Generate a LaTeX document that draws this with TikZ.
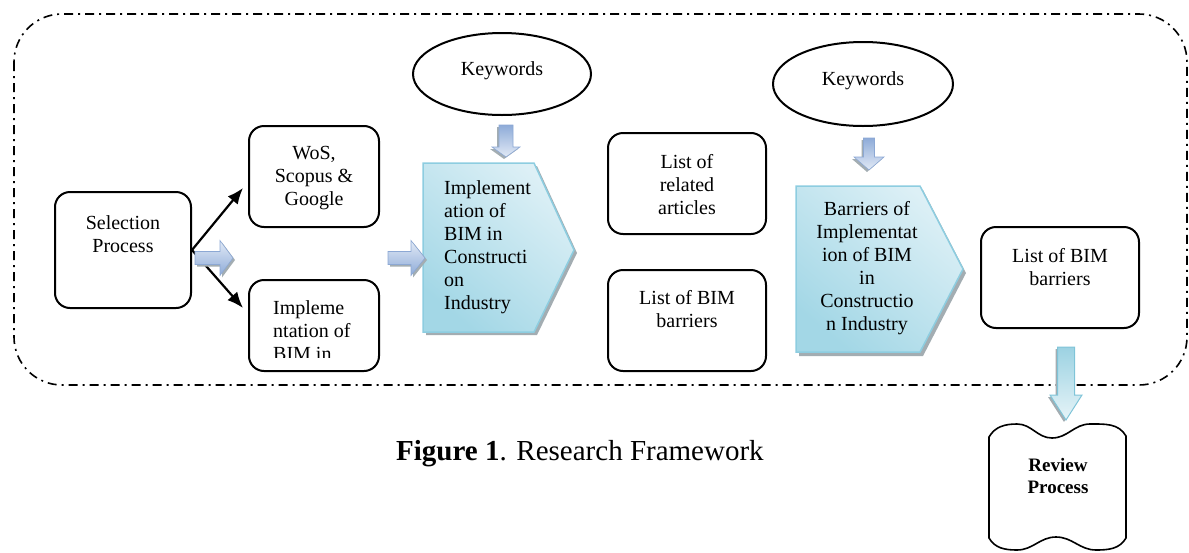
\documentclass[tikz,border=0pt]{standalone}
\usepackage{fontspec}
\setmainfont{Liberation Serif}
\usetikzlibrary{shapes.geometric,arrows.meta}
\definecolor{penfillA}{HTML}{A3D7E6}
\definecolor{penfillB}{HTML}{DDF0F6}
\definecolor{penline}{HTML}{8DCDE0}
\definecolor{shadowgrey}{HTML}{A3ADB2}
\definecolor{blueA}{HTML}{E2EAF6}
\definecolor{blueB}{HTML}{8EABD8}
\definecolor{blueline}{HTML}{8CA8D4}
\definecolor{cyanA}{HTML}{E6F4F8}
\definecolor{cyanB}{HTML}{9CD2E2}
\definecolor{cyanline}{HTML}{7FC4D8}
\begin{document}
\begin{tikzpicture}[x=1pt,y=1pt,
  box/.style={draw, line width=2pt, rounded corners=15pt, inner sep=0pt},
  txt/.style={font=\rmfamily\fontsize{20}{23}\selectfont, align=center, inner sep=0pt, anchor=north},
  kw/.style={font=\rmfamily\fontsize{20}{23}\selectfont, inner sep=0pt, anchor=base},
  ell/.style={draw, ellipse, line width=2pt, inner sep=0pt},
  conn/.style={line width=2.2pt, -{Latex[length=16pt,width=13pt]}},
  frame/.style={line width=1.6pt, rounded corners=48pt, dash pattern=on 9pt off 5pt on 2pt off 5pt},
  pent/.style={draw=penline, line width=1.5pt, top color=penfillB, bottom color=penfillA, shading angle=-40},
  bluearrR/.style={draw=blueline, line width=0.6pt, top color=blueA, bottom color=blueB},
  bluearrD/.style={draw=blueline, line width=0.6pt, top color=blueB, bottom color=blueA},
  cyanarrD/.style={draw=cyanline, line width=1pt, top color=cyanB, bottom color=cyanA},
  pics/barrow/.style n args={5}{code={
    \fill[shadowgrey] (2,-#2-2) -- (#1-#4+2,-#2-2) -- (#1-#4+2,-#3-2) -- (#1+2,-2)
      -- (#1-#4+2,#3-2) -- (#1-#4+2,#2-2) -- (2,#2-2) -- cycle;
    \path[#5] (0,-#2) -- (#1-#4,-#2) -- (#1-#4,-#3) -- (#1,0) -- (#1-#4,#3)
      -- (#1-#4,#2) -- (0,#2) -- cycle;
  }}
]
\useasboundingbox (0,0) rectangle (1189,-552);

% dash-dot frame
\draw[frame] (14,-14) rectangle (1187,-385);

% boxes
\node[box, minimum width=136pt, minimum height=116pt] (sel) at (123,-250) {};
\node[box, minimum width=130pt, minimum height=101pt] (wos) at (314,-176.5) {};
\node[box, minimum width=130pt, minimum height=91pt] (impl) at (314,-325.5) {};
\node[box, minimum width=158pt, minimum height=101pt] (rel) at (687,-183.5) {};
\node[box, minimum width=158pt, minimum height=101pt] (barl) at (687,-320.5) {};
\node[box, minimum width=158pt, minimum height=101pt] (barr) at (1060,-277.5) {};

\node[txt] (selt) at (123,-213) {\strut Selection\\Process};
\node[txt] (wost) at (314,-143) {\strut WoS,\\Scopus \&\\Google};
\begin{scope}
  \clip (249,-280) rectangle (379,-357);
  \node[txt, align=left, anchor=north west] (implt) at (273,-298) {\strut Impleme\\ntation of\\BIM in};
\end{scope}
\node[txt] (relt) at (687,-152) {\strut List of\\related\\articles};
\node[txt] (barlt) at (687,-288) {\strut List of BIM\\barriers};
\node[txt] (barrt) at (1060,-246) {\strut List of BIM\\barriers};

% ellipses
\node[ell, minimum width=178pt, minimum height=82pt] (kw1) at (502,-74) {};
\node[kw] (kw1t) at (502,-75) {Keywords};
\node[ell, minimum width=180pt, minimum height=84pt] (kw2) at (863,-84) {};
\node[kw] (kw2t) at (863,-85) {Keywords};

% pentagons
\fill[shadowgrey, shift={(3,-3)}] (423,-163) -- (534,-163) -- (574,-250) -- (534,-332) -- (423,-332) -- cycle;
\path[pent] (423,-163) -- (534,-163) -- (574,-250) -- (534,-332) -- (423,-332) -- cycle;
\node[txt, align=left, anchor=north west] (pen1) at (444,-178)
  {\strut Implement\\ation of\\BIM in\\Constructi\\on\\Industry};

\fill[shadowgrey, shift={(3,-4)}] (796,-186) -- (920,-186) -- (963,-269) -- (920,-352) -- (796,-352) -- cycle;
\path[pent] (796,-186) -- (920,-186) -- (963,-269) -- (920,-352) -- (796,-352) -- cycle;
\node[txt] (pen2) at (867,-199)
  {\strut Barriers of\\Implementat\\ion of BIM\\in\\Constructio\\n Industry};

% black connectors
\coordinate (wosin) at (243,-188);
\coordinate (implin) at (243,-308);
\draw[conn] (sel.east) -- (wosin);
\draw[conn] (sel.east) -- (implin);

% block arrows
\coordinate (ba1) at (195,-258);
\coordinate (ba2) at (388,-258);
\coordinate (bd1) at (506,-125);
\coordinate (bd2) at (869,-138);
\coordinate (bd3) at (1066,-347);
\pic at (ba1) {barrow={38}{6.5}{17.5}{13}{bluearrR}};
\pic at (ba2) {barrow={37}{6.5}{17.5}{14}{bluearrR}};
\pic[rotate=-90] at (bd1) {barrow={32}{7}{14}{10}{bluearrD}};
\pic[rotate=-90] at (bd2) {barrow={32}{5.5}{15}{13}{bluearrD}};
\pic[rotate=-90] at (bd3) {barrow={73}{8.5}{16}{25}{cyanarrD}};

% review process tape
\draw[line width=1.6pt, fill=white] (989,-437) to[out=60,in=180] (1017,-424) to[out=0,in=180] (1052,-438)
  to[out=0,in=180] (1090,-424) to[out=0,in=120] (1126,-436)
  -- (1126,-538) to[out=-120,in=0] (1096,-550) to[out=180,in=0] (1056,-537)
  to[out=180,in=0] (1017,-550) to[out=180,in=-60] (989,-538) -- cycle;
\node[txt, font=\rmfamily\fontsize{19}{22}\selectfont\bfseries] (rev) at (1058,-455.5) {\strut Review\\Process};

% caption
\node[inner sep=0pt, anchor=base west, font=\rmfamily\fontsize{29}{34}\selectfont] (cap) at (396,-460)
  {\textbf{Figure 1}. Research Framework};
\end{tikzpicture}
\end{document}
